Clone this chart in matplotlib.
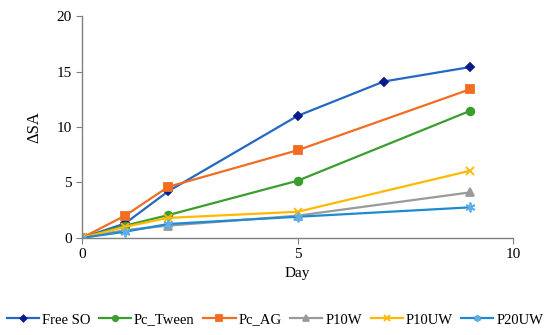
import matplotlib
matplotlib.use("Agg")
import matplotlib.pyplot as plt

plt.rcParams['font.family'] = ['Liberation Serif', 'DejaVu Serif']

days_a = [0, 1, 2, 5, 7, 9]
free_so = [0, 1.3, 4.2, 11.0, 14.1, 15.4]
days_b = [0, 1, 2, 5, 9]
pc_tween = [0, 1.1, 2.05, 5.15, 11.45]
pc_ag = [0, 2.0, 4.6, 7.9, 13.4]
p10w = [0, 0.7, 1.1, 2.0, 4.1]
p10uw = [0, 1.0, 1.8, 2.35, 6.05]
p20uw = [0, 0.55, 1.25, 1.9, 2.75]

series = [
    ("Free SO", days_a, free_so, "#2468BF", "#0A1A8A", "D", 4.5),
    ("Pc_Tween", days_b, pc_tween, "#3A9E2E", "#3A9E2E", "o", 5.5),
    ("Pc_AG", days_b, pc_ag, "#F26D21", "#F26D21", "s", 5.5),
    ("P10W", days_b, p10w, "#9A9A9A", "#9A9A9A", "^", 5.5),
    ("P10UW", days_b, p10uw, "#FFB900", "#FFB900", "x", 6),
    ("P20UW", days_b, p20uw, "#1E8AD0", "#5BB0E8", (6, 2, 0), 7),
]

fig = plt.figure(figsize=(5.5, 3.35), dpi=100)
ax = fig.add_axes([0.149, 0.29, 0.784, 0.662])

for name, x, y, lc, mc, m, ms in series:
    ax.plot(x, y, color=lc, lw=1.6, marker=m, markersize=ms,
            markerfacecolor=mc, markeredgecolor=mc, markeredgewidth=1.3, label=name)

ax.set_xlim(0, 10)
ax.set_ylim(0, 20)
ax.set_xticks([0, 5, 10])
ax.set_yticks([0, 5, 10, 15, 20])
for s in ['top', 'right']:
    ax.spines[s].set_visible(False)
for s in ['left', 'bottom']:
    ax.spines[s].set_color('#808080')
    ax.spines[s].set_linewidth(1.0)
ax.tick_params(colors='#808080', labelcolor='black', labelsize=11, length=4)
ax.set_xlabel("Day", fontsize=11, labelpad=4)
ax.set_ylabel("ΔSA", fontsize=12, labelpad=10)

fig.legend(loc='center', bbox_to_anchor=(0.5, 0.045), ncol=6, frameon=False,
           fontsize=10.5, handlelength=2.2, handletextpad=0.2, columnspacing=0.6,
           borderaxespad=0, markerscale=0.7)

fig.savefig("out.png", dpi=100)
